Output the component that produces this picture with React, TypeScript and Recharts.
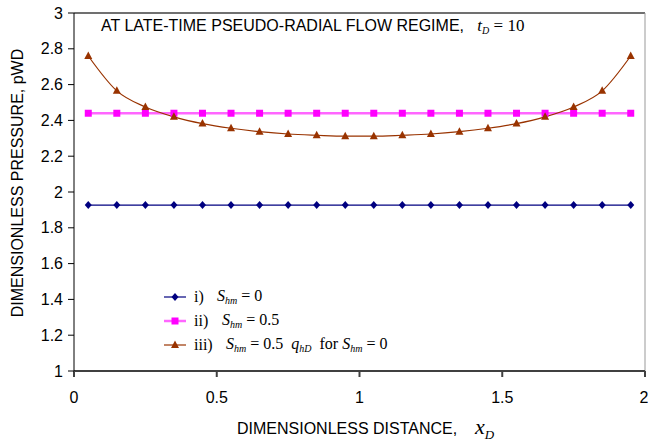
import { LineChart, Line, XAxis, YAxis, ReferenceLine } from "recharts";

const xD = [0.05, 0.15, 0.25, 0.35, 0.45, 0.55, 0.65, 0.75, 0.85, 0.95, 1.05, 1.15, 1.25, 1.35, 1.45, 1.55, 1.65, 1.75, 1.85, 1.95];
const noSkin = [1.927, 1.927, 1.927, 1.927, 1.927, 1.927, 1.927, 1.927, 1.927, 1.927, 1.927, 1.927, 1.927, 1.927, 1.927, 1.927, 1.927, 1.927, 1.927, 1.927];
const uniformSkin = [2.44, 2.44, 2.44, 2.44, 2.44, 2.44, 2.44, 2.44, 2.44, 2.44, 2.44, 2.44, 2.44, 2.44, 2.44, 2.44, 2.44, 2.44, 2.44, 2.44];
const fluxSkin = [2.76, 2.565, 2.475, 2.42, 2.382, 2.356, 2.337, 2.324, 2.317, 2.312, 2.312, 2.317, 2.324, 2.337, 2.356, 2.382, 2.42, 2.475, 2.565, 2.76];
const xTicks = [0, 0.5, 1, 1.5, 2];
const yTicks = [1, 1.2, 1.4, 1.6, 1.8, 2, 2.2, 2.4, 2.6, 2.8, 3];

const data = xD.map((x, i) => ({ x, s0: noSkin[i], s05: uniformSkin[i], sq: fluxSkin[i] }));

const BLUE = "#000080";
const MAGENTA = "#FF00FF";
const BROWN = "#993300";
const sans = "'Liberation Sans', Arial, sans-serif";
const serif = "'Liberation Serif', 'Times New Roman', serif";

const Diamond = (p: any) => {
	const { cx, cy } = p;
	if (cx == null || cy == null) return null;
	return <path key={p.index} d={`M${cx},${cy - 4}L${cx + 3.5},${cy}L${cx},${cy + 4}L${cx - 3.5},${cy}Z`} fill={BLUE} />;
};
const Square = (p: any) => {
	const { cx, cy } = p;
	if (cx == null || cy == null) return null;
	return <rect key={p.index} x={cx - 3.5} y={cy - 3.5} width={7} height={7} fill={MAGENTA} />;
};
const Tri = (p: any) => {
	const { cx, cy } = p;
	if (cx == null || cy == null) return null;
	return <path key={p.index} d={`M${cx},${cy - 4.5}L${cx + 4},${cy + 3}L${cx - 4},${cy + 3}Z`} fill={BROWN} />;
};

const Sub = ({ c }: { c: string }) => (
	<span style={{ fontSize: 10, verticalAlign: "-3px", fontStyle: "italic" }}>{c}</span>
);

const LegendRow = ({ color, marker, label, labelWidth, children }: any) => (
	<div style={{ display: "flex", alignItems: "center", height: 24, whiteSpace: "nowrap" }}>
		<svg width={24} height={12} style={{ marginRight: 6, flex: "none" }}>
			<line x1={0} y1={6} x2={22} y2={6} stroke={color} strokeWidth={color === MAGENTA ? 2.5 : 1.2} strokeOpacity={color === MAGENTA ? 0.6 : 1} />
			{marker}
		</svg>
		<span style={{ display: "inline-block", width: labelWidth, flex: "none" }}>{label}</span>
		{children}
	</div>
);

const CustomLegend = () => (
	<div style={{ fontFamily: serif, fontSize: 16, color: "#000", lineHeight: 1 }}>
		<LegendRow color={BLUE} label="i)" labelWidth={23} marker={<path d="M11,2L14.5,6L11,10L7.5,6Z" fill={BLUE} />}>
			<span><i>S</i><Sub c="hm" /> = 0</span>
		</LegendRow>
		<LegendRow color={MAGENTA} label="ii)" labelWidth={28} marker={<rect x={7.5} y={2.5} width={7} height={7} fill={MAGENTA} />}>
			<span><i>S</i><Sub c="hm" /> = 0.5</span>
		</LegendRow>
		<LegendRow color={BROWN} label="iii)" labelWidth={32} marker={<path d="M11,1.5L15,9L7,9Z" fill={BROWN} />}>
			<span><i>S</i><Sub c="hm" /> = 0.5 &nbsp;<i>q</i><Sub c="hD" />&nbsp; for <i>S</i><Sub c="hm" /> = 0</span>
		</LegendRow>
	</div>
);

export default function App() {
	return (
		<div style={{ position: "absolute", left: 0, top: 0, width: 648, height: 443, background: "#fff", fontFamily: sans }}>
			<LineChart width={648} height={443} data={data} margin={{ top: 13, right: 3, bottom: 42, left: 0 }}>
				<XAxis
					dataKey="x"
					type="number"
					domain={[0, 2]}
					ticks={xTicks}
					height={30}
					stroke="#404040"
					strokeWidth={2}
					tickSize={6}
					tickMargin={15}
					tick={{ fill: "#000", fontSize: 16, fontFamily: sans }}
					tickFormatter={(v: number) => String(v)}
				/>
				<YAxis
					type="number"
					domain={[1, 3]}
					ticks={yTicks}
					width={74}
					stroke="#000"
					tickSize={6}
					tickMargin={5}
					tick={{ fill: "#000", fontSize: 16, fontFamily: sans }}
					tickFormatter={(v: number) => String(v)}
				/>
				<ReferenceLine y={3} stroke="#404040" strokeWidth={1.5} />
				<ReferenceLine x={2} stroke="#999" strokeWidth={1} />
				<Line dataKey="s05" stroke="#FF66FF" strokeWidth={2.5} dot={<Square />} activeDot={false} isAnimationActive={false} />
				<Line dataKey="s0" stroke={BLUE} strokeWidth={1.2} dot={<Diamond />} activeDot={false} isAnimationActive={false} />
				<Line dataKey="sq" type="monotone" stroke={BROWN} strokeWidth={1.2} dot={<Tri />} activeDot={false} isAnimationActive={false} />
			</LineChart>
			<div style={{ position: "absolute", left: 101, top: 16, fontSize: 16, whiteSpace: "nowrap", color: "#000" }}>
				AT LATE-TIME PSEUDO-RADIAL FLOW REGIME,&nbsp;&nbsp;&nbsp;
				<span style={{ fontFamily: serif, fontSize: 17 }}>
					<i>t</i><Sub c="D" /> = 10
				</span>
			</div>
			<div style={{ position: "absolute", left: 164, top: 285 }}>
				<CustomLegend />
			</div>
			<div
				style={{
					position: "absolute",
					left: 18,
					top: 183,
					transform: "translate(-50%, -50%) rotate(-90deg)",
					fontSize: 16,
					whiteSpace: "nowrap",
					color: "#000",
				}}
			>
				DIMENSIONLESS PRESSURE, pWD
			</div>
			<div style={{ position: "absolute", left: 237, top: 414, fontSize: 16, whiteSpace: "nowrap", color: "#000" }}>
				DIMENSIONLESS DISTANCE,&nbsp;&nbsp;&nbsp;&nbsp;
				<span style={{ fontFamily: serif, fontSize: 22, fontStyle: "italic" }}>x</span>
				<span style={{ fontFamily: serif, fontSize: 13, fontStyle: "italic", verticalAlign: "-5px" }}>D</span>
			</div>
		</div>
	);
}
